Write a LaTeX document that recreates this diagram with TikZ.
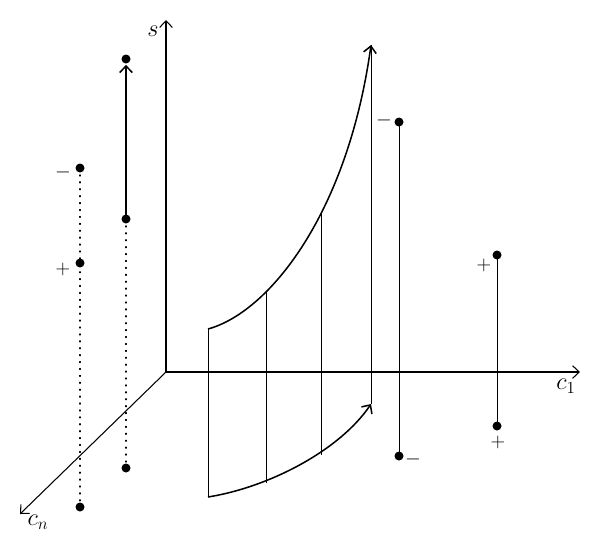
\documentclass[tikz,border=0pt]{standalone}
\usetikzlibrary{arrows.meta}

\tikzset{
  >={Straight Barb[length=2mm,width=3.8mm]},
  axis/.style={line width=0.9pt},
  curve/.style={line width=1.3pt},
  bar/.style={line width=0.8pt},
  dots/.style={line width=1pt, dash pattern=on 0.9pt off 5pt, line cap=round},
  sign/.style={font=\LARGE},
  lbl/.style={font=\huge}
}

\begin{document}
\begin{tikzpicture}[x=0.03cm, y=-0.03cm]
        \useasboundingbox (0,0) rectangle (600,557);

        % Points
        \coordinate (O) at (166,372);
        \coordinate (S) at (166,20);
        \coordinate (C1) at (580,372);
        \coordinate (Cn) at (20,514);

        % Draw axes
        \draw[axis,->] (O) -- (S);
        \draw[axis,->] (O) -- (C1);
        \draw[axis,->] (O) -- (Cn);
        \node[lbl] (ls) at (153,31) {$s$};
        \node[lbl] (lc1) at (566,386) {$c_1$};
        \node[lbl] (lcn) at (38,522) {$c_n$};

        % Dotted column at the left
        \coordinate (a1) at (80,168);
        \coordinate (a2) at (80,263);
        \coordinate (a3) at (80,507);
        \draw[dots] (a1) -- (a3);
        \fill (a1) circle (4.5);
        \fill (a2) circle (4.5);
        \fill (a3) circle (4.5);
        \node[sign] (ma) at (63,172) {$-$};
        \node[sign] (pa) at (63,269) {$+$};

        % Arrow column
        \coordinate (b1) at (126,59);
        \coordinate (b2) at (126,219);
        \coordinate (b3) at (126,468);
        \draw[dots] (b2) -- (b3);
        \draw[curve,->,shorten >=5] (b2) -- (b1);
        \fill (b1) circle (4.5);
        \fill (b2) circle (4.5);
        \fill (b3) circle (4.5);

        % Surface between the two curves
        \coordinate (t0) at (208,329);
        \coordinate (t1) at (266,292);
        \coordinate (t2) at (321,212);
        \coordinate (t3) at (371,45);
        \coordinate (u0) at (208,497);
        \coordinate (u1) at (266,483);
        \coordinate (u2) at (321,455);
        \coordinate (u3) at (371,404);
        \draw[curve,->] (t0) .. controls (270,312) and (348,212) .. (t3);
        \draw[curve,->] (u0) .. controls (270,487) and (340,450) .. (u3);
        \draw[bar] (t0) -- (u0);
        \draw[bar] (t1) -- (u1);
        \draw[bar] (t2) -- (u2);
        \draw[bar] (t3) -- (u3);

        % Column right of the surface
        \coordinate (d1) at (399,122);
        \coordinate (d2) at (399,456);
        \draw[bar] (d1) -- (d2);
        \fill (d1) circle (4.5);
        \fill (d2) circle (4.5);
        \node[sign] (md1) at (384,120) {$-$};
        \node[sign] (md2) at (413,459) {$-$};

        % Column at the right
        \coordinate (e1) at (497,255);
        \coordinate (e2) at (497,426);
        \draw[bar] (e1) -- (e2);
        \fill (e1) circle (4.5);
        \fill (e2) circle (4.5);
        \node[sign] (pe1) at (484,265) {$+$};
        \node[sign] (pe2) at (498,442) {$+$};
    \end{tikzpicture}
\end{document}
